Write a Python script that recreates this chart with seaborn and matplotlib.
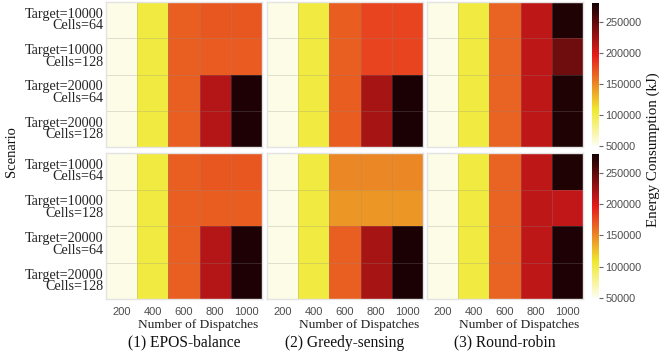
import numpy as np
import pandas as pd
import matplotlib
matplotlib.use("Agg")
import matplotlib.pyplot as plt
import seaborn as sns
from matplotlib.colors import LinearSegmentedColormap

dispatches = [200, 400, 600, 800, 1000]
scenarios = ["Target=10000\nCells=64", "Target=10000\nCells=128",
             "Target=20000\nCells=64", "Target=20000\nCells=128"]
strategies = ["(1) EPOS-balance", "(2) Greedy-sensing", "(3) Round-robin"]

# upper row of panels
epos_upper = [[53000, 103000, 167000, 171000, 171000],
              [53000, 103000, 167000, 169000, 169000],
              [53000, 103000, 167000, 216000, 276000],
              [53000, 103000, 167000, 216000, 276000]]
greedy_upper = [[53000, 103000, 168000, 179000, 179000],
                [53000, 103000, 167000, 179000, 179000],
                [53000, 103000, 168000, 221000, 277000],
                [53000, 103000, 168000, 221000, 277000]]
robin_upper = [[53000, 103000, 165000, 212000, 275000],
               [53000, 103000, 165000, 212000, 244000],
               [53000, 103000, 165000, 212000, 275000],
               [53000, 103000, 165000, 212000, 275000]]
# lower row of panels
epos_lower = [[53000, 103000, 167000, 171000, 171000],
              [53000, 103000, 167000, 168000, 168000],
              [53000, 103000, 167000, 216000, 276000],
              [53000, 103000, 167000, 216000, 276000]]
greedy_lower = [[53000, 103000, 150000, 150000, 150000],
                [53000, 103000, 144000, 144000, 144000],
                [53000, 103000, 167000, 221000, 277000],
                [53000, 103000, 167000, 221000, 277000]]
robin_lower = [[53000, 103000, 165000, 212000, 275000],
               [53000, 103000, 165000, 212000, 210000],
               [53000, 103000, 165000, 212000, 276000],
               [53000, 103000, 165000, 212000, 276000]]

cbar_ticks = [50000, 100000, 150000, 200000, 250000]
vmin, vmax = 50000, 280000

cmap = LinearSegmentedColormap.from_list(
    "hotlike",
    [(0.0, (253/255, 253/255, 240/255)),
     (0.254, (240/255, 232/255, 45/255)),
     (0.635, (230/255, 28/255, 28/255)),
     (1.0, (20/255, 0/255, 3/255))])

sns.set_theme(style="white")
serif = ["Liberation Serif", "DejaVu Serif"]
sans = ["Liberation Sans", "DejaVu Sans"]
plt.rcParams["font.family"] = serif

W, H = 660, 360
fig = plt.figure(figsize=(W / 100, H / 100), dpi=100)


def box(x0, y0, x1, y1):
    return [x0 / W, 1 - y1 / H, (x1 - x0) / W, (y1 - y0) / H]


cols = [(106, 262), (267, 423), (427, 583)]
rows = [(2, 147), (153, 299)]
data_rows = [[epos_upper, greedy_upper, robin_upper],
             [epos_lower, greedy_lower, robin_lower]]

for r, (y0, y1) in enumerate(rows):
    cax = fig.add_axes(box(592, y0 + 1, 599, y1 - 1))
    for c, (x0, x1) in enumerate(cols):
        ax = fig.add_axes(box(x0, y0, x1, y1))
        df = pd.DataFrame(data_rows[r][c], index=scenarios, columns=dispatches)
        sns.heatmap(df, ax=ax, cmap=cmap, vmin=vmin, vmax=vmax,
                    linewidths=0.5, linecolor=(0.55, 0.55, 0.55, 0.25),
                    cbar=(c == 0), cbar_ax=cax if c == 0 else None,
                    cbar_kws={"ticks": cbar_ticks} if c == 0 else None)
        for s in ax.spines.values():
            s.set_visible(True)
            s.set_color("#e3e3e3")
            s.set_linewidth(1.0)
        ax.tick_params(length=0)
        if c == 0:
            ax.set_yticklabels(scenarios, rotation=0, fontsize=10.2,
                               family=serif, ha="right", linespacing=0.85)
            ax.tick_params(axis="y", pad=2)
        else:
            ax.set_yticklabels([])
        ax.set_ylabel("")
        if r == 1:
            ax.set_xticklabels([str(d) for d in dispatches], rotation=0,
                               fontsize=8, family=sans, color="#4d4d4d")
            ax.tick_params(axis="x", pad=6)
            ax.set_xlabel("Number of Dispatches", fontsize=9.6, family=serif,
                          color="#222222")
            ax.xaxis.set_label_coords(0.59, -0.14)
            ax.annotate(strategies[c], xy=(0.5, 0), xycoords="axes fraction",
                        xytext=(0.5, -0.30), textcoords="axes fraction",
                        ha="center", va="center", fontsize=11.2,
                        family=serif, color="#111111")
        else:
            ax.set_xticklabels([])
            ax.set_xlabel("")
    cb = cax
    cb.tick_params(length=3, width=0.8, color="#666666", labelsize=7.8,
                   labelcolor="#4d4d4d", pad=1.5)
    for lab in cb.get_yticklabels():
        lab.set_family(sans)
    for s in cb.spines.values():
        s.set_visible(False)

fig.text(12 / W, 1 - 152 / H, "Scenario", rotation=90, ha="center",
         va="center", fontsize=10.5, family=serif, color="#111111")
fig.text(653 / W, 1 - 150 / H, "Energy Consumption (kJ)", rotation=90,
         ha="center", va="center", fontsize=10.8, family=serif,
         color="#111111")

fig.savefig("out.png", dpi=100, facecolor="white")
